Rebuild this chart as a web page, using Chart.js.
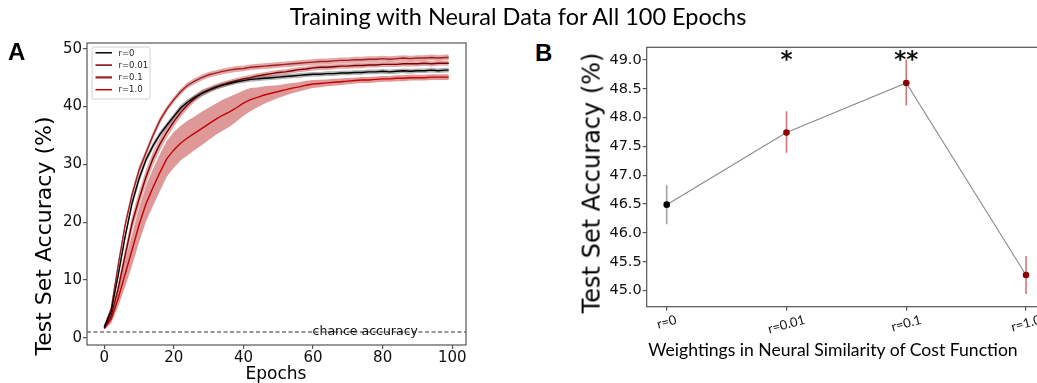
<!DOCTYPE html>
<html>
<head>
<meta charset="utf-8">
<script src="https://cdn.jsdelivr.net/npm/chart.js@4.4.1/dist/chart.umd.min.js"></script>
<style>
  html, body { margin: 0; padding: 0; background: #fff; }
  body { width: 1037px; height: 383px; overflow: hidden; position: relative; }
  .wrap { position: absolute; top: 0; }
  .txt { position: absolute; white-space: nowrap; transform: translate(-50%, -50%); color: #000; z-index: 2; line-height: 1.2; }
  .dv { font-family: 'DejaVu Sans', sans-serif; }
  .cal { font-family: 'Lato', sans-serif; }
  .rot { transform: translate(-50%, -50%) rotate(-90deg); }
  .panel { position: absolute; font-family: 'Liberation Sans', Arial, sans-serif; font-weight: bold; font-size: 24px; line-height: 24px; z-index: 2; }
</style>
</head>
<body>
<div class="wrap" style="left:0;width:480px;height:383px"><canvas id="chartA" width="480" height="383"></canvas></div>
<div class="wrap" style="left:560px;width:500px;height:383px"><canvas id="chartB" width="500" height="383"></canvas></div>

<div class="txt cal" style="left:518px;top:16px;font-size:23.5px">Training with Neural Data for All 100 Epochs</div>
<div class="panel" style="left:8px;top:40px">A</div>
<div class="panel" style="left:535px;top:41px">B</div>
<div class="txt dv rot" style="left:44px;top:236px;font-size:22px">Test Set Accuracy (%)</div>
<div class="txt dv rot" style="left:592px;top:183px;font-size:24px">Test Set Accuracy (%)</div>
<div class="txt dv" style="left:276px;top:373px;font-size:17px">Epochs</div>
<div class="txt cal" style="left:833px;top:350px;font-size:17.6px">Weightings in Neural Similarity of Cost Function</div>

<script>
// ---- panel A : accuracy per epoch (mean and spread) ----
const epochs = [0, 2, 4, 6, 8, 10, 12, 14, 16, 18, 20, 22, 24, 26, 28, 30, 32, 34, 36, 38,
  40, 42, 44, 46, 48, 50, 52, 54, 56, 58, 60, 62, 64, 66, 68, 70, 72, 74, 76, 78,
  80, 82, 84, 86, 88, 90, 92, 94, 96, 98, 99];

const seriesLabels = ['r=0', 'r=0.01', 'r=0.1', 'r=1.0'];

const accR0 = [1.8, 4.6, 10.8, 17.5, 23.3, 27.5, 30.8, 33.2, 35.2, 36.8, 38.3, 39.8, 40.8, 41.6, 42.3, 42.8, 43.3, 43.7, 44.0, 44.3,
  44.5, 44.7, 44.8, 44.9, 45.0, 45.1, 45.2, 45.3, 45.4, 45.5, 45.6, 45.6, 45.7, 45.7, 45.8, 45.8, 45.9, 45.9, 46.0, 46.0,
  46.1, 46.0, 46.1, 46.2, 46.1, 46.2, 46.2, 46.3, 46.2, 46.3, 46.3];
const accR001 = [1.7, 3.8, 8.5, 14.2, 19.8, 24.0, 27.8, 31.0, 33.5, 35.6, 37.4, 39.0, 40.3, 41.4, 42.3, 42.9, 43.4, 43.8, 44.2, 44.5,
  44.8, 45.0, 45.3, 45.5, 45.7, 45.9, 46.0, 46.2, 46.4, 46.5, 46.7, 46.8, 46.8, 46.9, 47.0, 47.0, 47.1, 47.1, 47.2, 47.2,
  47.3, 47.3, 47.3, 47.4, 47.4, 47.4, 47.5, 47.4, 47.5, 47.5, 47.5];
const accR01 = [1.9, 5.0, 12.5, 19.5, 24.8, 29.0, 32.0, 35.0, 37.6, 39.6, 41.2, 42.6, 43.7, 44.4, 45.0, 45.5, 45.8, 46.1, 46.3, 46.5,
  46.6, 46.8, 46.9, 47.0, 47.1, 47.2, 47.3, 47.4, 47.5, 47.6, 47.7, 47.8, 47.8, 47.9, 48.0, 48.0, 48.1, 48.1, 48.2, 48.2,
  48.3, 48.2, 48.3, 48.4, 48.3, 48.4, 48.4, 48.5, 48.4, 48.5, 48.5];
const accR1 = [1.6, 3.2, 6.8, 11.0, 15.2, 19.5, 23.2, 26.0, 28.6, 31.0, 32.5, 33.7, 34.6, 35.4, 36.2, 37.0, 37.8, 38.5, 39.1, 39.8,
  40.6, 41.2, 41.6, 42.0, 42.3, 42.6, 42.9, 43.2, 43.4, 43.7, 43.9, 44.0, 44.1, 44.2, 44.3, 44.4, 44.5, 44.6, 44.6, 44.7,
  44.8, 44.8, 44.9, 44.9, 45.0, 45.0, 45.0, 45.1, 45.1, 45.1, 45.1];

const sdR0 = [0.2, 0.4, 0.6, 0.7, 0.7, 0.7, 0.6, 0.6, 0.5, 0.5, 0.5, 0.5, 0.5, 0.45, 0.45, 0.45, 0.4, 0.4, 0.4, 0.4,
  0.4, 0.4, 0.4, 0.4, 0.4, 0.4, 0.4, 0.4, 0.4, 0.4, 0.4, 0.4, 0.4, 0.4, 0.4, 0.4, 0.4, 0.4, 0.4, 0.4,
  0.4, 0.4, 0.4, 0.4, 0.4, 0.4, 0.4, 0.4, 0.4, 0.4, 0.4];
const sdR001 = [0.2, 0.5, 0.9, 1.2, 1.3, 1.3, 1.3, 1.2, 1.1, 1.0, 0.9, 0.8, 0.7, 0.6, 0.6, 0.5, 0.5, 0.5, 0.45, 0.45,
  0.45, 0.45, 0.45, 0.45, 0.45, 0.45, 0.45, 0.45, 0.45, 0.45, 0.45, 0.45, 0.45, 0.45, 0.45, 0.45, 0.45, 0.45, 0.45, 0.45,
  0.45, 0.45, 0.45, 0.45, 0.45, 0.45, 0.45, 0.45, 0.45, 0.45, 0.45];
const sdR01 = [0.2, 0.4, 0.6, 0.7, 0.7, 0.7, 0.6, 0.6, 0.6, 0.5, 0.5, 0.5, 0.5, 0.5, 0.5, 0.5, 0.5, 0.5, 0.5, 0.5,
  0.5, 0.5, 0.5, 0.5, 0.5, 0.5, 0.5, 0.5, 0.5, 0.5, 0.5, 0.5, 0.5, 0.5, 0.5, 0.5, 0.5, 0.5, 0.5, 0.5,
  0.5, 0.5, 0.5, 0.5, 0.5, 0.5, 0.5, 0.5, 0.5, 0.5, 0.5];
const sdR1 = [0.2, 0.7, 1.4, 2.2, 2.7, 3.0, 3.1, 3.2, 3.2, 3.1, 3.1, 3.0, 3.0, 2.9, 2.9, 2.8, 2.7, 2.7, 2.6, 2.4,
  2.2, 2.0, 1.7, 1.5, 1.3, 1.1, 1.0, 0.9, 0.8, 0.75, 0.7, 0.65, 0.6, 0.6, 0.55, 0.55, 0.5, 0.5, 0.5, 0.5,
  0.5, 0.5, 0.5, 0.5, 0.5, 0.5, 0.5, 0.5, 0.5, 0.5, 0.5];

const chanceLevel = 1.0;
const chanceText = 'chance accuracy';
const xTicksA = [0, 20, 40, 60, 80, 100];
const yTicksA = [0, 10, 20, 30, 40, 50];

// ---- panel B : accuracy per weighting ----
const categories = ['r=0', 'r=0.01', 'r=0.1', 'r=1.0'];
const meanAcc = [46.49, 47.74, 48.60, 45.27];
const errLow = [46.15, 47.39, 48.21, 44.94];
const errHigh = [46.83, 48.11, 49.01, 45.60];
const sigMarks = ['', '*', '**', ''];
const yTicksB = [45.0, 45.5, 46.0, 46.5, 47.0, 47.5, 48.0, 48.5, 49.0];

// ---- style ----
Chart.defaults.animation = false;
Chart.defaults.font.family = "'DejaVu Sans', sans-serif";
Chart.defaults.color = '#111';
const AXIS = '#555';
const LINE_COL = ['#000000', '#7a0000', '#a02020', '#c40000'];
const BAND_COL = ['rgba(70,70,70,0.42)', 'rgba(185,40,40,0.40)', 'rgba(185,40,40,0.40)', 'rgba(190,50,50,0.50)'];

const frame = {
  id: 'frame',
  afterDraw(chart) {
    const { ctx, chartArea: a } = chart;
    ctx.save();
    ctx.strokeStyle = AXIS;
    ctx.lineWidth = 1.2;
    ctx.strokeRect(a.left, a.top, a.right - a.left, a.bottom - a.top);
    ctx.restore();
  }
};

// legend box in the upper left corner of panel A, built from the series datasets
const innerLegend = {
  id: 'innerLegend',
  afterDraw(chart) {
    const { ctx, chartArea: a } = chart;
    const items = chart.data.datasets.filter(d => d.isSeries);
    const x0 = a.left + 5, y0 = a.top + 4;
    ctx.save();
    ctx.fillStyle = 'rgba(255,255,255,0.85)';
    ctx.strokeStyle = '#d0d0d0';
    ctx.lineWidth = 1;
    ctx.beginPath();
    ctx.roundRect(x0, y0, 58, 52, 2);
    ctx.fill();
    ctx.stroke();
    ctx.font = "8.5px 'DejaVu Sans'";
    ctx.textBaseline = 'middle';
    items.forEach((d, i) => {
      const y = y0 + 5.8 + i * 12.3;
      ctx.strokeStyle = d.borderColor;
      ctx.lineWidth = i === 2 ? 2.2 : 1.5;
      ctx.beginPath();
      ctx.moveTo(x0 + 3.5, y);
      ctx.lineTo(x0 + 20, y);
      ctx.stroke();
      ctx.fillStyle = '#222';
      ctx.fillText(d.label, x0 + 26.5, y + 0.5);
    });
    ctx.restore();
  }
};

const chanceLabel = {
  id: 'chanceLabel',
  afterDatasetsDraw(chart) {
    const { ctx, scales: { x, y } } = chart;
    ctx.save();
    ctx.font = "12.5px 'DejaVu Sans'";
    ctx.fillStyle = '#111';
    ctx.textAlign = 'center';
    ctx.textBaseline = 'middle';
    ctx.fillText(chanceText, x.getPixelForValue(75), y.getPixelForValue(chanceLevel));
    ctx.restore();
  }
};

const pts = arr => epochs.map((e, i) => ({ x: e, y: arr[i] }));
const means = [accR0, accR001, accR01, accR1];
const sds = [sdR0, sdR001, sdR01, sdR1];
const X_MIN_A = -4.95, X_MAX_A = 103.95;

const dsA = means.map((m, k) => ({
  label: seriesLabels[k], data: pts(m), isSeries: true,
  borderColor: LINE_COL[k], borderWidth: 1.4, pointRadius: 0, fill: false,
  order: k === 0 ? 0 : 1,
}));
dsA.push({
  data: [{ x: X_MIN_A, y: chanceLevel }, { x: X_MAX_A, y: chanceLevel }],
  borderColor: '#333', borderWidth: 1.2, borderDash: [4, 2.5], pointRadius: 0, fill: false, order: 2,
});
means.forEach((m, k) => {
  dsA.push({
    data: pts(m.map((v, i) => v + sds[k][i])), borderColor: 'transparent', pointRadius: 0,
    backgroundColor: BAND_COL[k], fill: '+1', order: 3,
  });
  dsA.push({
    data: pts(m.map((v, i) => v - sds[k][i])), borderColor: 'transparent', pointRadius: 0,
    fill: false, order: 3,
  });
});

new Chart(document.getElementById('chartA'), {
  type: 'line',
  data: { datasets: dsA },
  options: {
    responsive: false,
    events: [],
    layout: { autoPadding: false, padding: { left: 0, top: 43, right: 14, bottom: 0 } },
    plugins: { legend: { display: false }, tooltip: { enabled: false }, filler: { drawTime: 'beforeDatasetsDraw' } },
    scales: {
      x: {
        type: 'linear', min: X_MIN_A, max: X_MAX_A,
        afterBuildTicks: s => { s.ticks = xTicksA.map(v => ({ value: v })); },
        afterFit: s => { s.height = 383 - 345; },
        ticks: { font: { size: 15 }, padding: 0, maxRotation: 0 },
        grid: { drawOnChartArea: false, drawTicks: true, tickLength: 4, color: AXIS, lineWidth: 1.2 },
        border: { display: false },
      },
      y: {
        min: -1.25, max: 51.0,
        afterBuildTicks: s => { s.ticks = yTicksA.map(v => ({ value: v })); },
        afterFit: s => { s.width = 87; },
        ticks: { font: { size: 15 }, padding: 1 },
        grid: { drawOnChartArea: false, drawTicks: true, tickLength: 4, color: AXIS, lineWidth: 1.2 },
        border: { display: false },
      },
    },
  },
  plugins: [frame, chanceLabel, innerLegend],
});

// ---- panel B ----
const PT_COL = ['#000000', '#8b0000', '#8b0000', '#8b0000'];
const ERR_COL = ['rgba(150,150,150,0.9)', 'rgba(205,95,95,0.85)', 'rgba(205,95,95,0.85)', 'rgba(205,95,95,0.85)'];
const ptsB = meanAcc.map((v, i) => ({ x: i, y: v }));

const errorBars = {
  id: 'errorBars',
  beforeDatasetDraw(chart, args) {
    if (args.index !== 0) return;
    const { ctx, scales: { x, y } } = chart;
    ctx.save();
    ctx.lineWidth = 1.6;
    categories.forEach((c, i) => {
      const px = x.getPixelForValue(i);
      ctx.strokeStyle = ERR_COL[i];
      ctx.beginPath();
      ctx.moveTo(px, y.getPixelForValue(errLow[i]));
      ctx.lineTo(px, y.getPixelForValue(errHigh[i]));
      ctx.stroke();
    });
    ctx.restore();
  }
};

// rotated category labels, centred under each tick, plus significance stars
const catLabels = {
  id: 'catLabels',
  afterDraw(chart) {
    const { ctx, chartArea: a, scales: { x, y } } = chart;
    const ang = 15 * Math.PI / 180;
    ctx.save();
    ctx.font = "13px 'Lato'";
    ctx.fillStyle = '#111';
    ctx.textAlign = 'center';
    ctx.textBaseline = 'middle';
    categories.forEach((c, i) => {
      const w = ctx.measureText(c).width;
      const h = w * Math.sin(ang) + 9 * Math.cos(ang);
      ctx.save();
      ctx.translate(x.getPixelForValue(i), a.bottom + 8.5 + h / 2);
      ctx.rotate(-ang);
      ctx.fillText(c, 0, 0);
      ctx.restore();
    });
    ctx.font = "bold 23px 'DejaVu Sans'";
    ctx.textBaseline = 'alphabetic';
    sigMarks.forEach((s, i) => {
      if (s) ctx.fillText(s, x.getPixelForValue(i), y.getPixelForValue(48.87));
    });
    ctx.restore();
  }
};

new Chart(document.getElementById('chartB'), {
  type: 'line',
  data: {
    datasets: [
      { data: ptsB, showLine: false, pointRadius: 3.3, pointBorderWidth: 0, pointBackgroundColor: PT_COL, order: 0 },
      { data: ptsB, borderColor: '#8a8a8a', borderWidth: 1.1, pointRadius: 0, fill: false, order: 1 },
    ],
  },
  options: {
    responsive: false,
    events: [],
    layout: { autoPadding: false, padding: { left: 0, top: 47.3, right: 16, bottom: 0 } },
    plugins: { legend: { display: false }, tooltip: { enabled: false } },
    scales: {
      x: {
        type: 'linear', min: -0.167, max: 3.15,
        afterBuildTicks: s => { s.ticks = categories.map((c, i) => ({ value: i })); },
        afterFit: s => { s.height = 383 - 306.7; },
        ticks: { callback: () => '' },
        grid: { drawOnChartArea: false, drawTicks: true, tickLength: 4, color: AXIS, lineWidth: 1.2 },
        border: { display: false },
      },
      y: {
        min: 44.72, max: 49.22,
        afterBuildTicks: s => { s.ticks = yTicksB.map(v => ({ value: v })); },
        afterFit: s => { s.width = 86.7; },
        ticks: { font: { size: 14.5 }, padding: 1, callback: v => v.toFixed(1) },
        grid: { drawOnChartArea: false, drawTicks: true, tickLength: 4, color: AXIS, lineWidth: 1.2 },
        border: { display: false },
      },
    },
  },
  plugins: [frame, errorBars, catLabels],
});
</script>
</body>
</html>
